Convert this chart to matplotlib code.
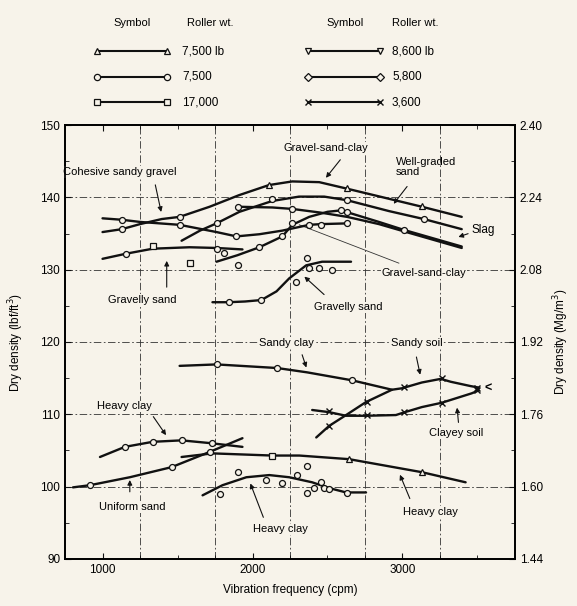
import numpy as np
import matplotlib.pyplot as plt

plt.rcParams['font.family'] = ['Liberation Sans', 'DejaVu Sans']

BG = '#f7f3ea'

# ---- curves (vibration frequency cpm, dry density lbf/ft3) ----
top_gsc_x = [1000, 1129, 1250, 1395, 1514, 1714, 1910, 2110, 2265, 2445, 2630, 2910, 3130, 3395]
top_gsc_y = [135.2, 135.6, 136.3, 137.0, 137.3, 138.7, 140.3, 141.7, 142.2, 142.1, 141.2, 139.8, 138.7, 137.3]

cross_x = [1000, 1129, 1250, 1514, 1760, 1893, 2046, 2199, 2378, 2458, 2631]
cross_y = [137.1, 136.9, 136.6, 136.2, 135.2, 134.6, 134.9, 135.4, 136.2, 136.3, 136.4]

wgs_x = [1527, 1650, 1760, 1913, 2132, 2310, 2478, 2631, 2910, 3142, 3395]
wgs_y = [134.0, 135.4, 136.4, 138.0, 139.5, 140.1, 140.1, 139.6, 138.1, 137.0, 135.6]

slag_a_x = [1760, 1900, 2046, 2199, 2265, 2378, 2500, 2591, 2843, 3009, 3395]
slag_a_y = [131.1, 132.0, 133.1, 134.6, 136.2, 137.3, 138.0, 138.2, 136.6, 135.5, 133.2]

slag_b_x = [1900, 2132, 2265, 2450, 2631, 2843, 3009, 3395]
slag_b_y = [138.7, 138.6, 138.4, 137.9, 137.3, 136.3, 135.3, 133.0]

gsand1_x = [1000, 1155, 1335, 1580, 1760, 1933]
gsand1_y = [131.5, 132.2, 132.9, 133.1, 133.0, 132.8]

gsand2_x = [1733, 1840, 1950, 2059, 2160, 2245, 2358, 2464, 2657]
gsand2_y = [125.5, 125.5, 125.6, 125.8, 127.0, 128.8, 130.6, 131.1, 131.1]

sclay_x = [1514, 1760, 2165, 2365, 2664, 2930]
sclay_y = [116.7, 116.9, 116.4, 115.8, 114.7, 113.4]

ssoil_x = [2425, 2511, 2624, 2757, 2930, 2996, 3129, 3255, 3322, 3455, 3508]
ssoil_y = [106.8, 108.4, 109.9, 111.7, 113.4, 113.6, 114.4, 114.9, 114.5, 113.9, 113.7]

csoil_x = [2398, 2511, 2624, 2757, 2956, 3016, 3129, 3262, 3461, 3508]
csoil_y = [110.6, 110.3, 109.8, 109.8, 109.9, 110.3, 111.0, 111.6, 112.9, 113.3]

hclay1_x = [983, 1149, 1335, 1527, 1727, 1933]
hclay1_y = [104.1, 105.5, 106.2, 106.4, 106.0, 105.5]

usand_x = [803, 916, 1182, 1461, 1714, 1933]
usand_y = [99.9, 100.2, 101.3, 102.7, 104.8, 106.7]

hclay2_x = [1527, 1733, 2132, 2312, 2644, 3129, 3421]
hclay2_y = [104.1, 104.6, 104.3, 104.3, 103.8, 102.0, 100.6]

hclay3_x = [1667, 1800, 1959, 2112, 2245, 2398, 2511, 2624, 2757]
hclay3_y = [98.8, 100.2, 101.3, 101.6, 101.3, 100.6, 99.8, 99.2, 99.2]

# ---- measured points by symbol ----
tri_x = [2112, 2631, 3129, 2644, 3129]
tri_y = [141.7, 141.3, 138.8, 103.8, 102.0]

circ_x = [1129, 1129, 1514, 1514, 1760, 1900, 1893, 2132, 2265, 2265, 2199, 2046,
          2378, 2458, 2591, 2631, 2631, 2631, 3142, 3009, 1760, 1155, 1807, 1900,
          1840, 2059, 2292, 2365, 2378, 2445, 2531,
          1760, 2165, 2664,
          1149, 1335, 1527, 1727, 916, 1461, 1714,
          1780, 1906, 2092, 2199, 2298, 2365, 2365, 2411, 2458, 2478, 2511, 2631]
circ_y = [136.9, 135.6, 137.3, 136.2, 136.4, 138.7, 134.6, 139.8, 138.4, 136.4, 134.6, 133.1,
          136.2, 136.2, 138.2, 139.6, 138.0, 136.4, 137.0, 135.5, 132.9, 132.2, 132.3, 130.6,
          125.5, 125.8, 128.3, 131.6, 130.2, 130.2, 130.0,
          116.9, 116.4, 114.7,
          105.5, 106.2, 106.4, 106.0, 100.2, 102.7, 104.8,
          99.0, 102.0, 100.9, 100.5, 101.6, 102.8, 99.1, 99.8, 100.6, 99.8, 99.7, 99.1]

sq_x = [1335, 1581, 2132]
sq_y = [133.3, 130.9, 104.3]

xm_x = [2511, 2763, 3009, 3262, 3500, 2511, 2763, 3009, 3262, 3500]
xm_y = [108.4, 111.7, 113.8, 115.0, 113.7, 110.5, 109.9, 110.3, 111.6, 113.3]

left_ticks = [90, 100, 110, 120, 130, 140, 150]
right_labels = ['1.44', '1.60', '1.76', '1.92', '2.08', '2.24', '2.40']

fig = plt.figure(figsize=(5.77, 6.06), dpi=100, facecolor=BG)
ax = fig.add_axes([0.1127, 0.0776, 0.7798, 0.7161], facecolor=BG)

grid_style = dict(color='#333333', lw=0.6, ls=(0, (9, 3, 2, 3)), zorder=1)
for gx in [1250, 1750, 2250, 2750, 3250]:
    ax.axvline(gx, **grid_style)
for gy in [100, 110, 120, 130, 140]:
    ax.axhline(gy, **grid_style)

curves = [(top_gsc_x, top_gsc_y), (cross_x, cross_y), (wgs_x, wgs_y),
          (slag_a_x, slag_a_y), (slag_b_x, slag_b_y), (gsand1_x, gsand1_y),
          (gsand2_x, gsand2_y), (sclay_x, sclay_y), (ssoil_x, ssoil_y),
          (csoil_x, csoil_y), (hclay1_x, hclay1_y), (usand_x, usand_y),
          (hclay2_x, hclay2_y), (hclay3_x, hclay3_y)]
for cx, cy in curves:
    ax.plot(cx, cy, color='#111111', lw=1.7, solid_capstyle='round',
            solid_joinstyle='round', zorder=3)

mk = dict(ls='none', mfc=BG, mec='#111111', mew=0.9, zorder=4)
ax.plot(tri_x, tri_y, marker='^', ms=4.5, **mk)
ax.plot(circ_x, circ_y, marker='o', ms=4.3, **mk)
ax.plot(sq_x, sq_y, marker='s', ms=4.3, **mk)
ax.plot(xm_x, xm_y, marker='x', ms=4, ls='none', color='#111111', mew=1.0, zorder=4)

# ---- labels with pointers ----
fs = 8
bb = dict(facecolor=BG, edgecolor='none', pad=0.5)
arr = dict(arrowstyle='-|>', color='#111111', lw=0.8, mutation_scale=7)
notes = [
    ('Cohesive sandy gravel', (1115, 143.5), (1348, 142.1), (1395, 137.6)),
    ('Gravel-sand-clay', (2491, 146.8), (2597, 145.5), (2478, 142.4)),
    ('Gravelly sand', (1268, 125.8), (1428, 127.2), (1428, 131.6)),
    ('Gravelly sand', (2637, 124.8), (2491, 126.3), (2332, 129.3)),
    ('Sandy clay', (2225, 119.9), (2325, 118.6), (2365, 116.1)),
    ('Sandy soil', (3096, 119.9), (3089, 118.3), (3122, 115.1)),
    ('Clayey soil', (3355, 107.4), (3375, 108.5), (3362, 111.3)),
    ('Heavy clay', (1149, 111.1), (1328, 110.0), (1434, 106.8)),
    ('Uniform sand', (1195, 97.2), (1182, 98.9), (1182, 101.3)),
    ('Heavy clay', (2185, 94.1), (2079, 95.4), (1979, 100.8)),
    ('Heavy clay', (3189, 96.5), (3056, 98.0), (2976, 102.0)),
]
for txt, tpos, a0, a1 in notes:
    ax.text(tpos[0], tpos[1], txt, fontsize=fs, ha='center', va='center', bbox=bb, zorder=6)
    ax.annotate('', xy=a1, xytext=a0, arrowprops=arr, zorder=5)

ax.text(2956, 144.2, 'Well-graded\nsand', fontsize=fs, ha='left', va='center',
        linespacing=1.1, zorder=6)
ax.annotate('', xy=(2930, 138.8), xytext=(3042, 141.8), arrowprops=arr, zorder=5)
ax.text(3461, 135.5, 'Slag', fontsize=fs + 0.5, ha='left', va='center', zorder=6)
ax.annotate('', xy=(3355, 134.4), xytext=(3455, 135.1), arrowprops=arr, zorder=5)
ax.text(2863, 129.5, 'Gravel-sand-clay', fontsize=fs, ha='left', va='center', bbox=bb, zorder=6)
ax.plot([2312, 2976], [136.2, 130.9], color='#333333', lw=0.6, zorder=2)
ax.text(3545, 113.5, '<', fontsize=fs + 1, ha='left', va='center', fontweight='bold', zorder=6)

ax.set_xlim(750, 3750)
ax.set_ylim(90, 150)
ax.set_xticks([1000, 2000, 3000])
ax.set_xticks([1250, 1500, 1750, 2250, 2500, 2750, 3250, 3500], minor=True)
ax.set_yticks(left_ticks)
ax.set_yticks(np.arange(95, 150, 10), minor=True)
ax.tick_params(which='both', direction='in', top=True, right=False, labelsize=8.5,
               color='#111111')
ax.tick_params(which='major', length=4)
ax.tick_params(which='minor', length=3)
for s in ax.spines.values():
    s.set_linewidth(1.3)
    s.set_color('#111111')
ax.set_xlabel('Vibration frequency (cpm)', fontsize=8.5, labelpad=6)
ax.set_ylabel('Dry density (lbf/ft$^3$)', fontsize=8.5, labelpad=10)

ax2 = ax.twinx()
ax2.set_ylim(90, 150)
ax2.set_yticks(left_ticks)
ax2.set_yticklabels(right_labels)
ax2.set_yticks(np.arange(95, 150, 10), minor=True)
ax2.tick_params(which='both', direction='in', labelsize=8.5, color='#111111')
ax2.tick_params(which='major', length=4)
ax2.tick_params(which='minor', length=3)
ax2.set_ylabel('Dry density (Mg/m$^3$)', fontsize=8.5, labelpad=6)
for s in ax2.spines.values():
    s.set_linewidth(1.3)

# ---- symbol key at the top ----
key = fig.add_axes([0, 0.79, 1, 0.21], facecolor='none')
key.set_xlim(0, 577)
key.set_ylim(127, 0)
key.axis('off')
key_left = [('^', '7,500 lb'), ('o', '7,500'), ('s', '17,000')]
key_right = [('v', '8,600 lb'), ('D', '5,800'), ('x', '3,600')]
for col, items in [((97, 167, 182, 132, 210), key_left), ((308, 380, 392, 345, 415), key_right)]:
    x0, x1, xt, hs, hr = col
    key.text(hs, 23, 'Symbol', fontsize=8, ha='center', va='center')
    key.text(hr, 23, 'Roller wt.', fontsize=8, ha='center', va='center')
    for i, (m, lab) in enumerate(items):
        yy = 51 + i * 25.5
        key.plot([x0, x1], [yy, yy], color='#111111', lw=1.5)
        if m == 'x':
            key.plot([x0, x1], [yy, yy], ls='none', marker='x', ms=4, color='#111111', mew=1)
        else:
            key.plot([x0, x1], [yy, yy], ls='none', marker=m, ms=4.5 if m != 'D' else 4,
                     mfc=BG, mec='#111111', mew=0.9)
        key.text(xt, yy, lab, fontsize=8.5, ha='left', va='center')

fig.savefig('out.png', dpi=100, facecolor=BG)
